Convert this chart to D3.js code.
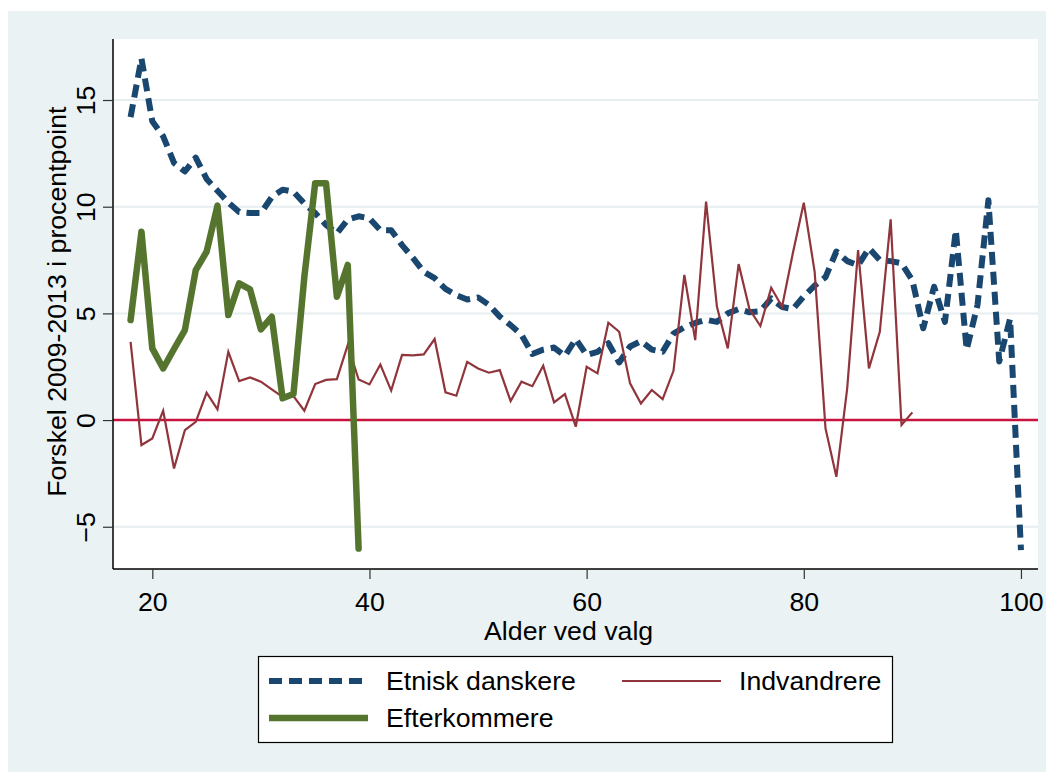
<!DOCTYPE html>
<html>
<head>
<meta charset="utf-8">
<script src="https://cdn.jsdelivr.net/npm/d3@7"></script>
<style>
	body { margin: 0; background: #ffffff; }
	svg { display: block; font-family: "Liberation Sans", Arial, sans-serif; }
</style>
</head>
<body>
<div id="chart"></div>
<script>
// ages (x) for each series
var agesDanskere = d3.range(18, 101);
var agesIndvandrere = d3.range(18, 91);
var agesEfterkommere = d3.range(18, 40);

// Forskel 2009-2013 i procentpoint
var danskere = [14.2, 16.95, 14.0, 13.3, 12.05, 11.65, 12.3, 11.3, 10.75, 10.2,
	9.75, 9.7, 9.7, 10.45, 10.8, 10.7, 10.15, 9.7, 9.15, 8.75,
	9.4, 9.55, 9.45, 8.9, 8.9, 8.2, 7.6, 6.95, 6.65, 6.15,
	5.85, 5.65, 5.75, 5.4, 4.85, 4.45, 4.0, 3.1, 3.3, 3.4,
	3.0, 3.8, 3.05, 3.2, 3.6, 2.7, 3.45, 3.7, 3.3, 3.2,
	4.05, 4.35, 4.55, 4.7, 4.6, 5.0, 5.2, 5.05, 5.1, 5.7,
	5.3, 5.2, 5.8, 6.3, 6.7, 7.9, 7.45, 7.25, 8.05, 7.5,
	7.45, 7.35, 6.55, 4.3, 6.25, 4.6, 8.9, 3.3, 5.4, 10.3,
	2.75, 4.75, -6.1];
var indvandrere = [3.67, -1.17, -0.86, 0.44, -2.27, -0.47, -0.08, 1.28, 0.5, 3.2,
	1.83, 2.0, 1.8, 1.44, 1.09, 1.12, 0.44, 1.69, 1.88, 1.92,
	3.52, 1.9, 1.67, 2.6, 1.38, 3.05, 3.03, 3.08, 3.8, 1.3,
	1.14, 2.73, 2.42, 2.22, 2.34, 0.89, 1.8, 1.59, 2.55, 0.83,
	1.22, -0.31, 2.5, 2.19, 4.56, 4.14, 1.72, 0.78, 1.41, 0.98,
	2.31, 6.8, 3.75, 10.24, 5.31, 3.36, 7.31, 5.19, 4.41, 6.2,
	5.31, 7.84, 10.19, 6.95, -0.39, -2.66, 1.5, 7.97, 2.42, 4.14,
	9.41, -0.23, 0.36];
var efterkommere = [4.69, 8.83, 3.36, 2.42, 3.33, 4.22, 7.03, 7.89, 10.05, 4.92,
	6.41, 6.13, 4.25, 4.84, 1.02, 1.22, 6.7, 11.1, 11.1, 5.78,
	7.27, -6.02];

var xTicks = [20, 40, 60, 80, 100];
var yTicks = [-5, 0, 5, 10, 15];
var legendNames = ["Etnisk danskere", "Indvandrere", "Efterkommere"];

var width = 1054, height = 772;
var plot = {left: 113, right: 1038, top: 39, bottom: 569};

var svg = d3.select("#chart").append("svg")
	.attr("width", width)
	.attr("height", height);

// outer graph region
svg.append("rect")
	.attr("x", 8).attr("y", 11)
	.attr("width", 1038).attr("height", 761)
	.attr("fill", "#eaf2f3");

svg.append("rect")
	.attr("x", plot.left).attr("y", plot.top)
	.attr("width", plot.right - plot.left)
	.attr("height", plot.bottom - plot.top)
	.attr("fill", "#ffffff");

var xScale = d3.scaleLinear()
	.domain([16.38, 101.57])
	.range([plot.left, plot.right]);
var yScale = d3.scaleLinear()
	.domain([-6.98, 17.86])
	.range([plot.bottom, plot.top]);

// gridlines
svg.selectAll(".grid")
	.data(yTicks.filter(d => d != 0))
	.enter().append("line")
	.attr("class", "grid")
	.attr("x1", plot.left).attr("x2", plot.right)
	.attr("y1", d => yScale(d)).attr("y2", d => yScale(d))
	.attr("stroke", "#e6eef0")
	.attr("stroke-width", 2);

// zero line
svg.append("line")
	.attr("x1", plot.left).attr("x2", plot.right)
	.attr("y1", yScale(0)).attr("y2", yScale(0))
	.attr("stroke", "#c8133f")
	.attr("stroke-width", 2.5);

// axes
var yAxis = d3.axisLeft(yScale).tickValues(yTicks).tickSize(10).tickSizeOuter(0).tickPadding(8);
var gy = svg.append("g")
	.attr("transform", "translate(" + plot.left + ",0)")
	.call(yAxis);
gy.select(".domain").attr("stroke", "#000").attr("stroke-width", 1.5)
	.attr("d", "M0," + plot.bottom + "V" + plot.top);
gy.selectAll(".tick line").attr("stroke", "#333").attr("stroke-width", 1.2);
gy.selectAll(".tick text")
	.attr("font-size", 26.7)
	.attr("font-family", "Liberation Sans, Arial, sans-serif")
	.attr("fill", "#000")
	.attr("text-anchor", "middle")
	.attr("dy", null)
	.attr("x", null)
	.attr("dominant-baseline", "central")
	.attr("transform", "translate(-27,0) rotate(-90)");

var xAxis = d3.axisBottom(xScale).tickValues(xTicks).tickSize(10).tickSizeOuter(0).tickPadding(8);
var gx = svg.append("g")
	.attr("transform", "translate(0," + plot.bottom + ")")
	.call(xAxis);
gx.select(".domain").attr("stroke", "#000").attr("stroke-width", 1.5)
	.attr("d", "M" + plot.left + ",0H" + plot.right);
gx.selectAll(".tick line").attr("stroke", "#333").attr("stroke-width", 1.2);
gx.selectAll(".tick text")
	.attr("font-size", 26.7)
	.attr("font-family", "Liberation Sans, Arial, sans-serif")
	.attr("fill", "#000")
	.attr("dy", null)
	.attr("y", 42);

// axis titles
svg.append("text")
	.attr("x", (xScale(20) + xScale(100)) / 2 - 18)
	.attr("y", 640)
	.attr("text-anchor", "middle")
	.attr("font-size", 26.7)
	.text("Alder ved valg");

svg.append("text")
	.attr("transform", "translate(57," + (yScale(5.55)) + ") rotate(-90)")
	.attr("text-anchor", "middle")
	.attr("dominant-baseline", "central")
	.attr("font-size", 26.7)
	.text("Forskel 2009-2013 i procentpoint");

// series lines
var line = d3.line()
	.x(d => xScale(d[0]))
	.y(d => yScale(d[1]));

svg.append("path")
	.datum(d3.zip(agesDanskere, danskere))
	.attr("d", line)
	.attr("fill", "none")
	.attr("stroke", "#1a476f")
	.attr("stroke-width", 6)
	.attr("stroke-dasharray", "13,7")
	.attr("stroke-linejoin", "round");

svg.append("path")
	.datum(d3.zip(agesIndvandrere, indvandrere))
	.attr("d", line)
	.attr("fill", "none")
	.attr("stroke", "#90353b")
	.attr("stroke-width", 2.2)
	.attr("stroke-linejoin", "miter");

svg.append("path")
	.datum(d3.zip(agesEfterkommere, efterkommere))
	.attr("d", line)
	.attr("fill", "none")
	.attr("stroke", "#55752f")
	.attr("stroke-width", 6.5)
	.attr("stroke-linejoin", "round")
	.attr("stroke-linecap", "round");

// legend
var legend = svg.append("g");
legend.append("rect")
	.attr("x", 258.5).attr("y", 656.5)
	.attr("width", 634).attr("height", 86)
	.attr("fill", "#fff")
	.attr("stroke", "#000")
	.attr("stroke-width", 1.2);

var legendItems = [
	{name: legendNames[0], x: 269, y: 681, color: "#1a476f", w: 6, dash: "13,7"},
	{name: legendNames[1], x: 622, y: 681, color: "#90353b", w: 2.2, dash: null},
	{name: legendNames[2], x: 269, y: 718, color: "#55752f", w: 6.5, dash: null}
];
legendItems.forEach(function(it) {
	legend.append("line")
		.attr("x1", it.x).attr("x2", it.x + 99)
		.attr("y1", it.y).attr("y2", it.y)
		.attr("stroke", it.color)
		.attr("stroke-width", it.w)
		.attr("stroke-dasharray", it.dash);
	legend.append("text")
		.attr("x", it.x + 117)
		.attr("y", it.y)
		.attr("dominant-baseline", "central")
		.attr("font-size", 26.7)
		.text(it.name);
});
</script>
</body>
</html>
